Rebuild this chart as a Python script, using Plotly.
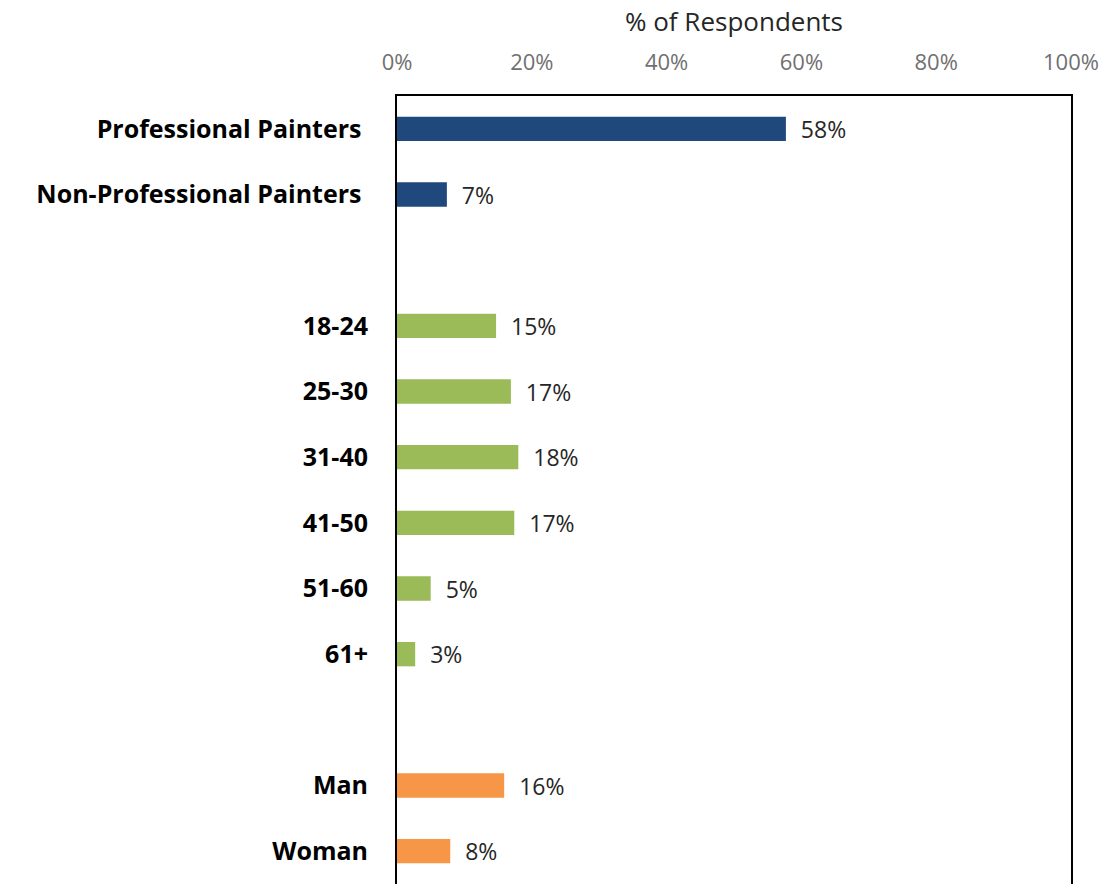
import plotly.graph_objects as go

# categories top to bottom; blank entries are the gaps between groups
categorias = ["Professional Painters ", "Non-Professional Painters ", " ",
              "18-24", "25-30", "31-40", "41-50", "51-60", "61+", "  ",
              "Man", "Woman"]
valores = [0.577, 0.074, None,
           0.147, 0.169, 0.180, 0.174, 0.050, 0.027, None,
           0.159, 0.079]
colores = ["#1F497D", "#1F497D", "#FFFFFF",
           "#9BBB59", "#9BBB59", "#9BBB59", "#9BBB59", "#9BBB59", "#9BBB59", "#FFFFFF",
           "#F79646", "#F79646"]

fig = go.Figure()

fig.add_trace(go.Bar(
    x=valores,
    y=categorias,
    orientation="h",
    marker=dict(color=colores, line=dict(width=0)),
    texttemplate="  %{x:.0%}",
    textposition="outside",
    constraintext="none",
    textfont=dict(family="Open Sans", size=23, color="#262626"),
    cliponaxis=False,
    hoverinfo="skip",
    showlegend=False))

fig.update_layout(
    width=1102,
    height=884,
    margin=dict(l=397, r=31, t=96, b=0),
    plot_bgcolor="white",
    paper_bgcolor="white",
    bargap=0.63,
    font=dict(family="Open Sans"),
    xaxis=dict(
        side="top",
        range=[0, 1],
        dtick=0.2,
        tickformat=".0%",
        showgrid=False,
        zeroline=False,
        showline=True,
        linecolor="black",
        linewidth=2,
        ticks="",
        ticklabelstandoff=15,
        tickfont=dict(family="Open Sans", size=22, color="#707070"),
        title=dict(text="% of Respondents", standoff=7,
                   font=dict(family="Open Sans", size=26, color="#262626")),
    ),
    yaxis=dict(
        autorange="reversed",
        categoryorder="array",
        categoryarray=categorias,
        showgrid=False,
        zeroline=False,
        showline=True,
        mirror=True,
        linecolor="black",
        linewidth=2,
        ticks="",
        ticklabelstandoff=22,
        tickfont=dict(family="Open Sans", size=25, color="black", weight="bold"),
    ),
)

fig.write_html("out.html",
               config={"displayModeBar": False},
               post_script="document.body.style.margin='0';document.body.style.overflow='hidden';")
